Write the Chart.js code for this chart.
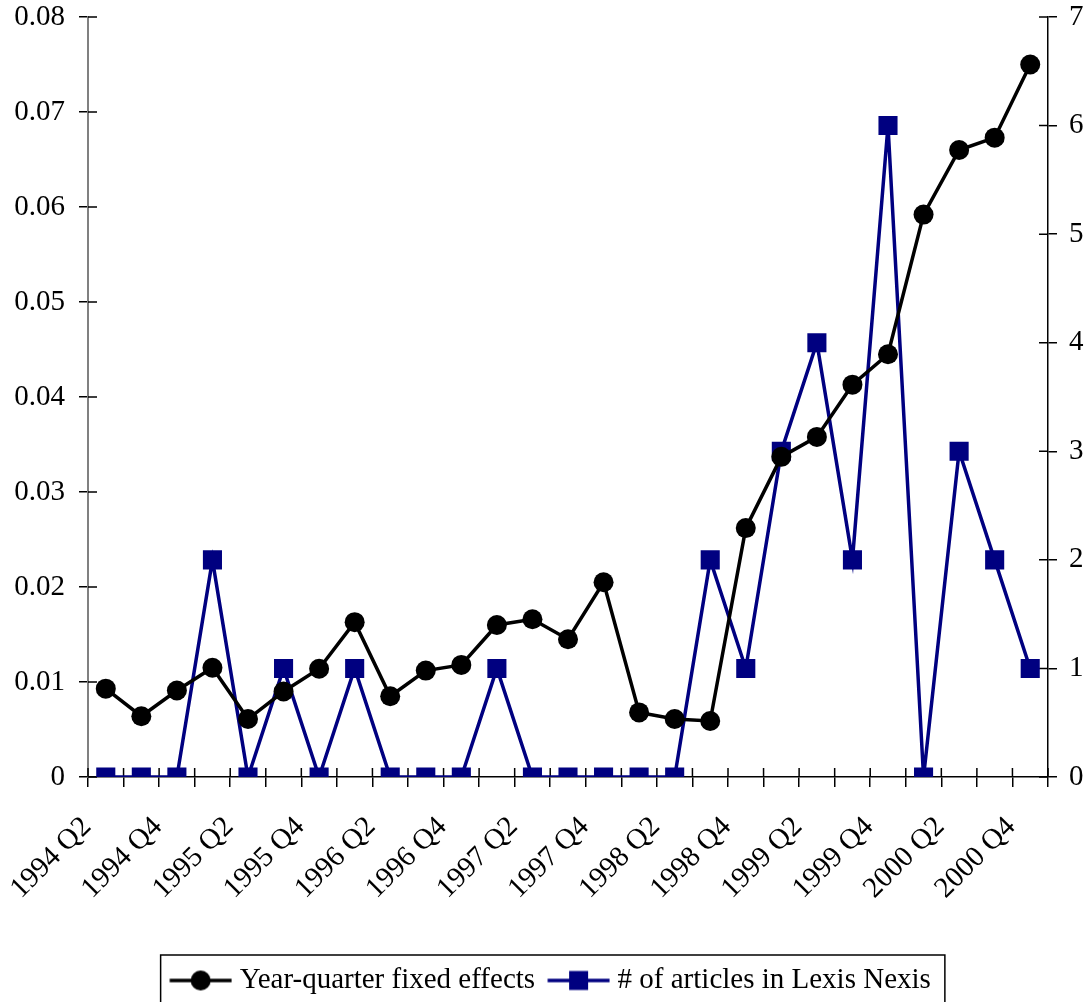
<!DOCTYPE html>
<html>
<head>
<meta charset="utf-8">
<script src="https://cdn.jsdelivr.net/npm/chart.js@4/dist/chart.umd.min.js"></script>
<style>
  html, body { margin: 0; padding: 0; background: #fff; }
  #wrap { width: 1092px; height: 1002px; }
</style>
</head>
<body>
<div id="wrap"><canvas id="chart" width="1092" height="1002"></canvas></div>
<script>
// quarters on the x axis
const quarters = [
    "1994 Q2", "1994 Q3", "1994 Q4",
    "1995 Q1", "1995 Q2", "1995 Q3", "1995 Q4",
    "1996 Q1", "1996 Q2", "1996 Q3", "1996 Q4",
    "1997 Q1", "1997 Q2", "1997 Q3", "1997 Q4",
    "1998 Q1", "1998 Q2", "1998 Q3", "1998 Q4",
    "1999 Q1", "1999 Q2", "1999 Q3", "1999 Q4",
    "2000 Q1", "2000 Q2", "2000 Q3", "2000 Q4"
];
// left axis series
const fixedEffects = [
    0.0093, 0.0064, 0.0091,
    0.0115, 0.0061, 0.0090, 0.0114,
    0.0163, 0.0085, 0.0112, 0.0118,
    0.0160, 0.0166, 0.0145, 0.0205,
    0.0068, 0.0061, 0.0059, 0.0262,
    0.0337, 0.0358, 0.0413, 0.0445,
    0.0592, 0.0660, 0.0673, 0.0750
];
// right axis series
const articles = [
    0, 0, 0,
    2, 0, 1, 0,
    1, 0, 0, 0,
    1, 0, 0, 0,
    0, 0, 2, 1,
    3, 4, 2, 6,
    0, 3, 2, 1
];
const seriesNames = ["Year-quarter fixed effects", "# of articles in Lexis Nexis"];

const NAVY = "#000080";
const FONT = { family: "'Liberation Serif', 'Times New Roman', serif", size: 29 };

// little line+marker pictures for the legend (blank on the left = gap between items)
function legendIcon(color, shape) {
    const c = document.createElement("canvas");
    c.width = 78;
    c.height = 24;
    const g = c.getContext("2d");
    g.strokeStyle = color;
    g.lineWidth = 3.5;
    g.beginPath();
    g.moveTo(15.5, 12);
    g.lineTo(77.5, 12);
    g.stroke();
    g.fillStyle = color;
    if (shape === "circle") {
        g.beginPath();
        g.arc(46.5, 12, 10, 0, Math.PI * 2);
        g.fill();
    } else {
        g.fillRect(37, 2.5, 19, 19);
    }
    return c;
}
const icons = [legendIcon("#000", "circle"), legendIcon(NAVY, "rect")];

// ticks crossing the axes + box round the legend
const axisExtras = {
    id: "axisExtras",
    beforeDatasetsDraw(chart) {
        const ctx = chart.ctx;
        const { left, right, bottom } = chart.chartArea;
        const yl = chart.scales.y;
        const yr = chart.scales.y2;
        const x = chart.scales.x;
        ctx.save();
        ctx.strokeStyle = "#000";
        ctx.lineWidth = 1.5;
        ctx.beginPath();
        yl.ticks.forEach((t, i) => {
            const p = yl.getPixelForTick(i);
            ctx.moveTo(left, p);
            ctx.lineTo(left + 9, p);
        });
        yr.ticks.forEach((t, i) => {
            const p = yr.getPixelForTick(i);
            ctx.moveTo(right - 9, p);
            ctx.lineTo(right, p);
        });
        const step = x.getPixelForValue(1) - x.getPixelForValue(0);
        for (let i = 0; i <= quarters.length; i++) {
            const p = x.getPixelForValue(0) - step / 2 + i * step;
            ctx.moveTo(p, bottom - 9);
            ctx.lineTo(p, bottom);
        }
        ctx.stroke();
        ctx.restore();
    },
    afterDraw(chart) {
        const boxes = chart.legend.legendHitBoxes;
        if (!boxes || !boxes.length) return;
        const ctx = chart.ctx;
        const l = Math.min(...boxes.map(b => b.left)) - 0.5;
        const r = Math.max(...boxes.map(b => b.left + b.width)) + 14;
        const t = boxes[0].top - 11;
        ctx.save();
        ctx.strokeStyle = "#000";
        ctx.lineWidth = 1.5;
        ctx.strokeRect(l, t, r - l, 1010 - t);
        ctx.restore();
    }
};

function noEndPadding(scale) {
    scale.paddingTop = 0;
    scale.paddingBottom = 0;
}

const ctx = document.getElementById("chart").getContext("2d");
new Chart(ctx, {
    type: "line",
    data: {
        labels: quarters,
        datasets: [
            {
                label: seriesNames[0],
                data: fixedEffects,
                yAxisID: "y",
                borderColor: "#000",
                backgroundColor: "#000",
                borderWidth: 3.5,
                pointStyle: "circle",
                pointRadius: 10,
                pointBorderWidth: 0,
                tension: 0
            },
            {
                label: seriesNames[1],
                data: articles,
                yAxisID: "y2",
                borderColor: NAVY,
                backgroundColor: NAVY,
                borderWidth: 3.5,
                pointStyle: "rect",
                pointRadius: 13.5,
                pointBorderWidth: 0,
                tension: 0
            }
        ]
    },
    options: {
        responsive: false,
        animation: false,
        layout: { padding: { top: 17, left: 0, right: 0, bottom: -3 } },
        plugins: {
            tooltip: { enabled: false },
            legend: {
                position: "bottom",
                labels: {
                    font: FONT,
                    color: "#000",
                    usePointStyle: true,
                    pointStyleWidth: 64,
                    boxHeight: 24,
                    padding: 4,
                    generateLabels(chart) {
                        return chart.data.datasets.map((ds, i) => ({
                            text: ds.label,
                            pointStyle: icons[i],
                            fillStyle: ds.borderColor,
                            strokeStyle: ds.borderColor,
                            lineWidth: 0,
                            fontColor: "#000",
                            hidden: false,
                            datasetIndex: i
                        }));
                    }
                }
            }
        },
        scales: {
            x: {
                type: "category",
                offset: true,
                grid: {
                    display: true,
                    offset: true,
                    drawOnChartArea: false,
                    drawTicks: true,
                    tickLength: 10,
                    color: "#000",
                    lineWidth: 1.5
                },
                border: { display: true, color: "#000", width: 1.5 },
                ticks: {
                    font: FONT,
                    color: "#000",
                    autoSkip: false,
                    maxRotation: 45,
                    minRotation: 45,
                    padding: 23,
                    labelOffset: -19,
                    callback: (v, i) => (i % 2 === 0 ? quarters[i] : "")
                },
                afterFit(scale) { scale.height = 185; }
            },
            y: {
                position: "left",
                min: 0,
                max: 0.08,
                grid: {
                    drawOnChartArea: false,
                    drawTicks: true,
                    tickLength: 9,
                    color: "#000",
                    lineWidth: 1.5
                },
                border: { display: true, color: "#808080", width: 2 },
                ticks: {
                    stepSize: 0.01,
                    font: FONT,
                    color: "#000",
                    padding: 14,
                    callback: v => (v === 0 ? "0" : v.toFixed(2))
                },
                afterFit(scale) { scale.width = 88; noEndPadding(scale); }
            },
            y2: {
                position: "right",
                min: 0,
                max: 7,
                grid: {
                    drawOnChartArea: false,
                    drawTicks: true,
                    tickLength: 9,
                    color: "#000",
                    lineWidth: 1.5
                },
                border: { display: true, color: "#000", width: 1.5 },
                ticks: {
                    stepSize: 1,
                    font: FONT,
                    color: "#000",
                    padding: 12
                },
                afterFit(scale) { scale.width = 44; noEndPadding(scale); }
            }
        }
    },
    plugins: [axisExtras]
});
</script>
</body>
</html>
